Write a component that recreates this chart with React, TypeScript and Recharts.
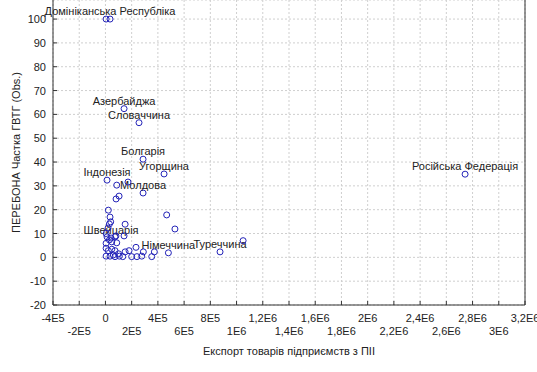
import { ScatterChart, Scatter, XAxis, YAxis, CartesianGrid, Label } from "recharts";

// назви країн (порожньо = без підпису)
const countryNames = [
  "Домініканська Республіка", "", "Азербайджа", "Словаччина", "Болгарія", "Угорщина",
  "Індонезія", "Молдова", "Швейцарія", "Німеччина", "Туреччина", "Російська Федерація",
  "", "", "", "", "", "", "", "", "", "", "", "", "", "", "", "", "", "", "", "", "",
  "", "", "", "", "", "", "", "", "", "", "", "", "", "", "", "", "", "", "", "",
];

// Експорт товарів підприємств з ПІІ
const exportValues = [
  35000, 5000, 142000, 256000, 287000, 447000, 12000, 287000, 43000, 480000, 874000, 2743000,
  172000, 86000, 81000, 104000, 22000, 35000, 40000, 30000, 150000, 467000, 530000,
  5000, 20000, 80000, 142000, 12000, 73000, 5000, 30000, 86000, 48000,
  5000, 22000, 48000, 73000, 150000, 180000, 233000, 289000, 373000, 1050000,
  5000, 35000, 73000, 106000, 132000, 200000, 240000, 277000, 353000, 60000, 100000,
];

// ПЕРЕБОНА Частка ГВТГ
const shareValues = [
  100, 100, 62.4, 56.5, 41.2, 35, 32.4, 27, 8.1, 1.9, 2.3, 34.9,
  31.6, 30.3, 24.5, 25.7, 19.8, 16.9, 14.9, 14.0, 13.9, 17.8, 11.9,
  10, 12.3, 9, 9, 8.6, 8.6, 5.9, 7.3, 6.1, 6.5,
  3.8, 2.8, 3.4, 2.8, 2.3, 2.8, 4.2, 2.3, 2.3, 7.0,
  0.5, 0.5, 0.3, 0.5, 0.3, 0.3, 0.3, 0.5, 0.3, 1.0, 1.5,
];

const xTicks = [
  -400000, -200000, 0, 200000, 400000, 600000, 800000, 1000000, 1200000, 1400000,
  1600000, 1800000, 2000000, 2200000, 2400000, 2600000, 2800000, 3000000, 3200000,
];
const xTickLabels = [
  "-4E5", "-2E5", "0", "2E5", "4E5", "6E5", "8E5", "1E6", "1,2E6", "1,4E6",
  "1,6E6", "1,8E6", "2E6", "2,2E6", "2,4E6", "2,6E6", "2,8E6", "3E6", "3,2E6",
];
const yTicks = [-20, -10, 0, 10, 20, 30, 40, 50, 60, 70, 80, 90, 100];

const data = exportValues.map((x, i) => ({
  x,
  y: shareValues[i],
  name: countryNames[i] || "",
}));

const FONT = "'Liberation Sans', Arial, sans-serif";
const AXIS = "#333";

const XTick = (props: any) => {
  const { x, y, index } = props;
  const row = index % 2 === 0 ? 17 : 30;
  return (
    <g>
      <line x1={x} x2={x} y1={y} y2={y - 4} stroke={AXIS} />
      <text x={x} y={y + row} textAnchor="middle" fontSize={11} fontFamily={FONT} fill="#222">
        {xTickLabels[index]}
      </text>
    </g>
  );
};

const YTick = (props: any) => {
  const { x, y, payload } = props;
  return (
    <g>
      <line x1={x} x2={x + 4} y1={y} y2={y} stroke={AXIS} />
      <text x={x - 7} y={y + 4} textAnchor="end" fontSize={11} fontFamily={FONT} fill="#222">
        {payload.value}
      </text>
    </g>
  );
};

const RightTick = (props: any) => {
  const { x, y } = props;
  return <line x1={x} x2={x - 4} y1={y} y2={y} stroke={AXIS} />;
};

const Dot = (props: any) => {
  const { cx, cy, payload } = props;
  return (
    <g>
      <circle cx={cx} cy={cy} r={3} fill="none" stroke="#2323b8" strokeWidth={1} />
      {payload.name ? (
        <text x={cx} y={cy - 4} textAnchor="middle" fontSize={11} fontFamily={FONT} fill="#222">
          {payload.name}
        </text>
      ) : null}
    </g>
  );
};

export default function App() {
  return (
    <div style={{ position: "absolute", left: 0, top: 0, background: "#fff" }}>
      <ScatterChart width={537} height={372} margin={{ top: 0, right: 0, bottom: 17, left: 0 }}>
        <CartesianGrid stroke="#cfcfcf" strokeDasharray="2 2" />
        <XAxis
          type="number"
          dataKey="x"
          domain={[-400000, 3200000]}
          ticks={xTicks}
          interval={0}
          height={50}
          tickSize={0}
          tickMargin={0}
          stroke={AXIS}
          tick={<XTick />}
        >
          <Label
            content={(p: any) => {
              const vb = p.viewBox;
              return (
                <text x={vb.x + vb.width / 2} y={vb.y + 50} textAnchor="middle" fontSize={11} fontFamily={FONT} fill="#222">
                  Експорт товарів підприємств з ПІІ
                </text>
              );
            }}
          />
        </XAxis>
        <YAxis
          type="number"
          dataKey="y"
          domain={[-20, 108]}
          ticks={yTicks}
          interval={0}
          width={53}
          tickSize={0}
          tickMargin={0}
          stroke={AXIS}
          tick={<YTick />}
        >
          <Label
            content={(p: any) => {
              const vb = p.viewBox;
              const cy = vb.y + vb.height / 2;
              return (
                <text x={20} y={cy} textAnchor="middle" fontSize={11} fontFamily={FONT} fill="#222" transform={`rotate(-90, 20, ${cy})`}>
                  ПЕРЕБОНА Частка ГВТГ (Obs.)
                </text>
              );
            }}
          />
        </YAxis>
        <YAxis
          yAxisId="r"
          orientation="right"
          type="number"
          domain={[-20, 108]}
          ticks={yTicks}
          interval={0}
          width={12}
          tickSize={0}
          tickMargin={0}
          stroke={AXIS}
          tick={<RightTick />}
        />
        <Scatter data={data} shape={<Dot />} isAnimationActive={false} />
      </ScatterChart>
    </div>
  );
}
